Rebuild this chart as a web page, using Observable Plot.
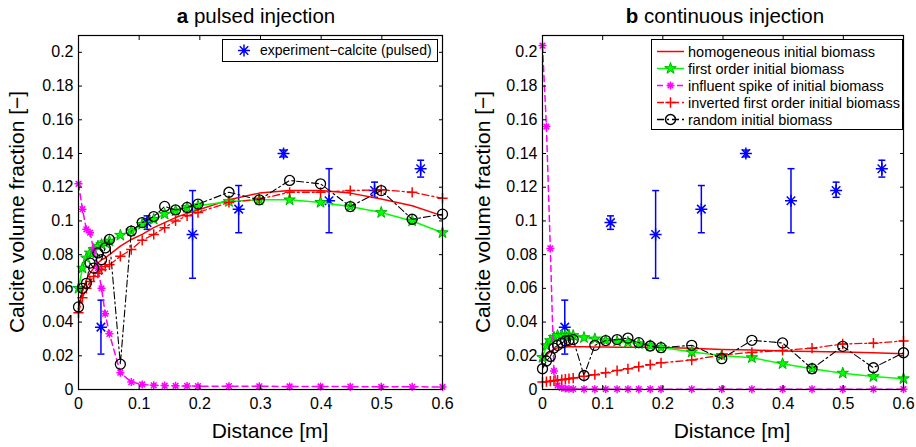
<!DOCTYPE html>
<html><head><meta charset="utf-8">
<script src="https://cdn.jsdelivr.net/npm/d3@7"></script>
<script src="https://cdn.jsdelivr.net/npm/@observablehq/plot@0.6"></script>
<style>
body{margin:0;background:#fff;font-family:"Liberation Sans",Arial,sans-serif;color:#000;}
#wrap{position:relative;width:916px;height:447px;overflow:hidden;background:#fff;}
.panel{position:absolute;top:0;}
.title{position:absolute;top:4px;font-size:20.5px;white-space:nowrap;transform:translateX(-50%);line-height:normal;}
.title b{font-weight:bold;}
.xlabel{position:absolute;top:419px;font-size:21px;white-space:nowrap;transform:translateX(-50%);line-height:normal;}
.ylabel{position:absolute;font-size:21px;white-space:nowrap;transform:translate(-50%,-50%) rotate(-90deg);line-height:normal;}
.legend{position:absolute;box-sizing:border-box;background:#fff;border:1px solid #000;}
.legend svg{display:block;}
</style>
</head><body>
<div id="wrap"></div>
<script>
// ---------- data ----------
const xTicks = [0, 0.1, 0.2, 0.3, 0.4, 0.5, 0.6];
const yTicks = [0, 0.02, 0.04, 0.06, 0.08, 0.1, 0.12, 0.14, 0.16, 0.18, 0.2];

// model grid (distance, m)
const xGrid = [0, 0.0065, 0.013, 0.019, 0.025, 0.032, 0.038, 0.044, 0.051, 0.069, 0.087, 0.105, 0.124, 0.142, 0.16, 0.179, 0.197, 0.248, 0.298, 0.348, 0.399, 0.448, 0.499, 0.55, 0.6];

// experiment
const expX  = [0.037, 0.113, 0.188, 0.264, 0.338, 0.413, 0.488, 0.564];
const expY  = [0.037, 0.099, 0.092, 0.107, 0.140, 0.112, 0.118, 0.131];
const expLo = [0.021, 0.095, 0.066, 0.093, 0.138, 0.093, 0.114, 0.126];
const expHi = [0.053, 0.103, 0.118, 0.121, 0.142, 0.131, 0.123, 0.136];

// panel a: pulsed injection
const homA   = [0.048, 0.058, 0.065, 0.069, 0.072, 0.075, 0.077, 0.078, 0.080, 0.085, 0.089, 0.092, 0.096, 0.099, 0.102, 0.1045, 0.1065, 0.1125, 0.1165, 0.118, 0.118, 0.1165, 0.113, 0.109, 0.103];
const firstA = [0.060, 0.072, 0.078, 0.081, 0.083, 0.085, 0.086, 0.087, 0.088, 0.0915, 0.094, 0.098, 0.101, 0.104, 0.106, 0.108, 0.109, 0.1115, 0.1125, 0.1125, 0.111, 0.1085, 0.105, 0.100, 0.093];
const spikeA = [0.122, 0.107, 0.095, 0.093, 0.083, 0.072, 0.060, 0.045, 0.033, 0.010, 0.0044, 0.003, 0.0025, 0.0023, 0.0022, 0.0021, 0.002, 0.002, 0.0019, 0.0018, 0.0018, 0.0017, 0.0016, 0.0016, 0.0015];
const invA   = [0.0455, 0.0545, 0.060, 0.064, 0.067, 0.069, 0.071, 0.073, 0.074, 0.079, 0.083, 0.0885, 0.092, 0.096, 0.100, 0.103, 0.105, 0.111, 0.113, 0.117, 0.117, 0.118, 0.1185, 0.117, 0.1135];
const randA  = [0.049, 0.060, 0.063, 0.075, 0.072, 0.081, 0.077, 0.084, 0.089, 0.015, 0.094, 0.099, 0.1026, 0.1086, 0.1065, 0.108, 0.110, 0.117, 0.1125, 0.124, 0.122, 0.1085, 0.118, 0.101, 0.104];

// panel b: continuous injection
const homB   = [0.017, 0.0205, 0.0225, 0.024, 0.0247, 0.025, 0.0252, 0.0253, 0.0253, 0.0253, 0.0252, 0.0252, 0.0251, 0.0251, 0.025, 0.025, 0.0249, 0.0245, 0.0238, 0.0234, 0.0229, 0.0225, 0.0222, 0.0218, 0.0212];
const firstB = [0.019, 0.026, 0.029, 0.031, 0.032, 0.0322, 0.0323, 0.0322, 0.032, 0.0308, 0.030, 0.029, 0.0285, 0.028, 0.0272, 0.026, 0.025, 0.0222, 0.0202, 0.0189, 0.0153, 0.0123, 0.0097, 0.0077, 0.0064];
const spikeB = [0.204, 0.156, 0.0837, 0.011, 0.0024, 0.001, 0.0006, 0.0004, 0.0003, 0.0002, 0.0002, 0.0002, 0.0002, 0.0002, 0.0002, 0.0002, 0.0002, 0.0002, 0.0002, 0.0002, 0.0002, 0.0002, 0.0002, 0.0002, 0.0002];
const invB   = [0.0044, 0.0046, 0.0049, 0.0052, 0.0055, 0.0058, 0.0061, 0.0064, 0.0068, 0.0078, 0.0088, 0.010, 0.0112, 0.0123, 0.0135, 0.0147, 0.0158, 0.0175, 0.0205, 0.022, 0.0232, 0.0245, 0.027, 0.0275, 0.0288];
const randB  = [0.0123, 0.0169, 0.0196, 0.0246, 0.0262, 0.0276, 0.0288, 0.0292, 0.0296, 0.0083, 0.0262, 0.029, 0.0296, 0.0305, 0.0278, 0.0258, 0.0248, 0.0262, 0.0183, 0.0292, 0.0276, 0.0123, 0.0256, 0.0129, 0.0218];

const seriesNames = ["homogeneous initial biomass", "first order initial biomass", "influent spike of initial biomass", "inverted first order initial biomass", "random initial biomass"];
const expName = "experiment\u2212calcite (pulsed)";

// ---------- styles ----------
const RED = "#ff0000", GREEN = "#00ff00", GREEN_EDGE = "#00b400", MAG = "#ff00ff", BLUE = "#0000ff", BLACK = "#000000";
const FONT = "'Liberation Sans', Arial, Helvetica, sans-serif";
const DASH = "6,4", DASHDOT = "7,3,2,3";

const ast8 = {draw(ctx, size) {
  const r = Math.sqrt(size / Math.PI), d = r * Math.SQRT1_2;
  ctx.moveTo(-r, 0); ctx.lineTo(r, 0); ctx.moveTo(0, -r); ctx.lineTo(0, r);
  ctx.moveTo(-d, -d); ctx.lineTo(d, d); ctx.moveTo(-d, d); ctx.lineTo(d, -d);
}};
const capSym = {draw(ctx, size) {
  const r = Math.sqrt(size / Math.PI);
  ctx.moveTo(-r, 0); ctx.lineTo(r, 0);
}};

function rows(arr) { return xGrid.map((x, i) => ({x, y: arr[i]})); }
const expRows = expX.map((x, i) => ({x, y: expY[i], lo: expLo[i], hi: expHi[i]}));

function panel(s, width, ml, mr) {
  const hom = rows(s.hom), first = rows(s.first), spike = rows(s.spike), inv = rows(s.inv), rnd = rows(s.rand);
  const fmt = d => String(d);
  return Plot.plot({
    width, height: 447,
    marginLeft: ml, marginRight: mr, marginTop: 35, marginBottom: 58,
    style: {fontFamily: FONT, fontSize: "16px", background: "transparent", color: "#000", overflow: "visible"},
    x: {domain: [0, 0.6], label: null},
    y: {domain: [0, 0.21], label: null},
    marks: [
      Plot.ruleX(expRows, {x: "x", y1: "lo", y2: "hi", stroke: BLUE, strokeWidth: 1.5}),
      Plot.dot(expRows, {x: "x", y: "lo", symbol: capSym, r: 3.5, fill: "none", stroke: BLUE, strokeWidth: 1.5}),
      Plot.dot(expRows, {x: "x", y: "hi", symbol: capSym, r: 3.5, fill: "none", stroke: BLUE, strokeWidth: 1.5}),
      Plot.dot(expRows, {x: "x", y: "y", symbol: ast8, r: 6, fill: "none", stroke: BLUE, strokeWidth: 1.5}),

      Plot.line(hom, {x: "x", y: "y", stroke: RED, strokeWidth: 1.5, curve: "linear"}),

      Plot.line(first, {x: "x", y: "y", stroke: GREEN, strokeWidth: 1.5}),
      Plot.dot(first, {x: "x", y: "y", symbol: "star", r: 3.6, fill: GREEN, stroke: GREEN_EDGE, strokeWidth: 1}),

      Plot.line(spike, {x: "x", y: "y", stroke: MAG, strokeWidth: 1.5, strokeDasharray: DASH}),
      Plot.dot(spike, {x: "x", y: "y", symbol: ast8, r: 4, fill: "none", stroke: MAG, strokeWidth: 1.5}),

      Plot.line(inv, {x: "x", y: "y", stroke: RED, strokeWidth: 1.3, strokeDasharray: DASHDOT}),
      Plot.dot(inv, {x: "x", y: "y", symbol: "plus", r: 3.4, fill: "none", stroke: RED, strokeWidth: 1.5}),

      Plot.line(rnd, {x: "x", y: "y", stroke: BLACK, strokeWidth: 1.1, strokeDasharray: DASHDOT}),
      Plot.dot(rnd, {x: "x", y: "y", symbol: "circle", r: 5, fill: "none", stroke: BLACK, strokeWidth: 1.3}),

      Plot.frame({stroke: "#000", strokeWidth: 1.2}),
      Plot.axisX(xTicks, {anchor: "bottom", tickSize: 0, tickPadding: 8, tickFormat: fmt, fontSize: 16, label: null}),
      Plot.axisY(yTicks, {anchor: "left", tickSize: 0, tickPadding: 5, tickFormat: fmt, fontSize: 16, label: null}),
      Plot.axisX(xTicks, {anchor: "bottom", tickSize: -4, tickFormat: () => "", label: null}),
      Plot.axisX(xTicks, {anchor: "top", tickSize: -4, tickFormat: () => "", label: null}),
      Plot.axisY(yTicks, {anchor: "left", tickSize: -4, tickFormat: () => "", label: null}),
      Plot.axisY(yTicks, {anchor: "right", tickSize: -4, tickFormat: () => "", label: null})
    ]
  });
}

const wrap = document.getElementById("wrap");
function addDiv(cls, html, style) {
  const d = document.createElement("div");
  d.className = cls; d.innerHTML = html; Object.assign(d.style, style);
  wrap.appendChild(d); return d;
}

const pA = panel({hom: homA, first: firstA, spike: spikeA, inv: invA, rand: randA}, 460, 78, 18);
pA.classList.add("panel"); pA.style.left = "0px"; wrap.appendChild(pA);
const pB = panel({hom: homB, first: firstB, spike: spikeB, inv: invB, rand: randB}, 456, 82, 13);
pB.classList.add("panel"); pB.style.left = "460px"; wrap.appendChild(pB);

addDiv("title", "<b>a</b> pulsed injection", {left: "256px"});
addDiv("title", "<b>b</b> continuous injection", {left: "725px"});
addDiv("xlabel", "Distance [m]", {left: "270px"});
addDiv("xlabel", "Distance [m]", {left: "732px"});
addDiv("ylabel", "Calcite volume fraction [\u2212]", {left: "17px", top: "212px"});
addDiv("ylabel", "Calcite volume fraction [\u2212]", {left: "483px", top: "212px"});

// legends
function legendBox(left, top, w, h, fontSize, entries) {
  const box = addDiv("legend", "", {left: left + "px", top: top + "px", width: w + "px", height: h + "px"});
  const svg = d3.select(box).append("svg").attr("width", w - 2).attr("height", h - 2)
    .style("font-family", FONT).style("font-size", fontSize + "px");
  entries.forEach(e => {
    const g = svg.append("g").attr("transform", `translate(0,${e.y})`);
    if (e.line) g.append("line").attr("x1", e.x0).attr("x2", e.x1).attr("stroke", e.color)
      .attr("stroke-width", 1.5).attr("stroke-dasharray", e.dash || null);
    if (e.sym) {
      const p = g.append("path").attr("transform", `translate(${(e.x0 + e.x1) / 2},0)`)
        .attr("d", d3.symbol(e.sym, e.r * e.r * Math.PI)());
      if (e.fill) p.attr("fill", e.fill).attr("stroke", e.stroke).attr("stroke-width", 1);
      else p.attr("fill", "none").attr("stroke", e.color).attr("stroke-width", 1.5);
    }
    g.append("text").attr("x", e.tx).attr("dy", "0.35em").text(e.label);
  });
}
legendBox(222, 39, 216, 23, 14, [
  {y: 10.5, x0: 14, x1: 28, line: false, sym: ast8, r: 6, color: BLUE, tx: 37, label: expName}
]);
legendBox(651, 39, 252, 91, 14.5, [
  {y: 11.5, x0: 5, x1: 32, line: true, color: RED, tx: 36, label: seriesNames[0]},
  {y: 28.5, x0: 5, x1: 32, line: true, color: GREEN, sym: d3.symbolStar, r: 3.6, fill: GREEN, stroke: GREEN_EDGE, tx: 36, label: seriesNames[1]},
  {y: 45.5, x0: 5, x1: 32, line: true, color: MAG, dash: DASH, sym: ast8, r: 4, tx: 36, label: seriesNames[2]},
  {y: 62.5, x0: 5, x1: 32, line: true, color: RED, dash: DASHDOT, sym: d3.symbolPlus, r: 3.4, tx: 36, label: seriesNames[3]},
  {y: 79.5, x0: 5, x1: 32, line: true, color: BLACK, dash: DASHDOT, sym: d3.symbolCircle, r: 5, tx: 36, label: seriesNames[4]}
]);
</script>
</body></html>
